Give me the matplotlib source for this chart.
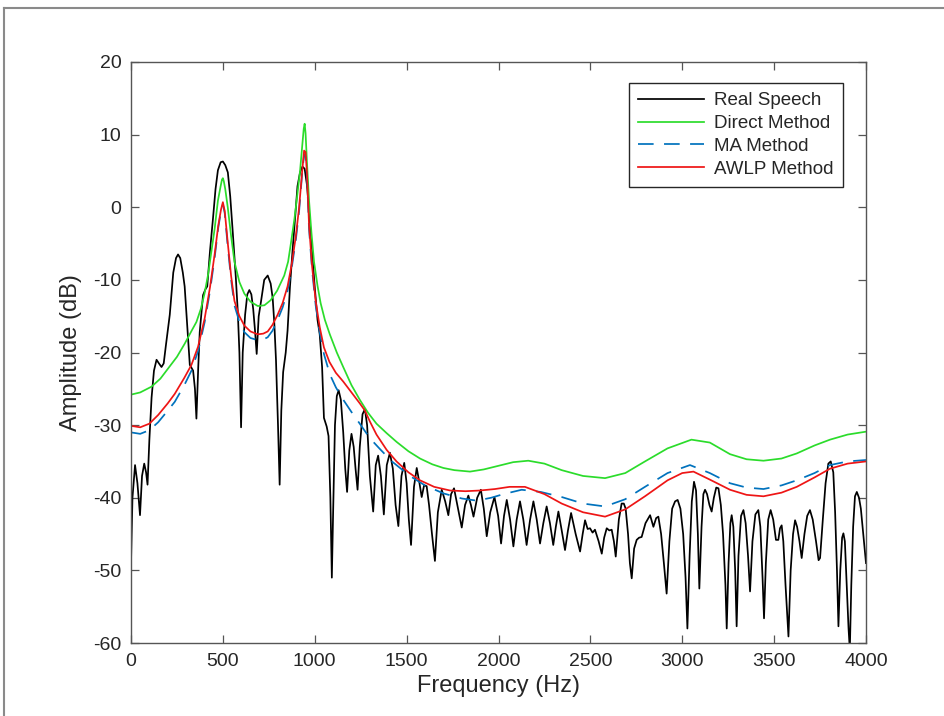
import numpy as np
import matplotlib
matplotlib.use("Agg")
import matplotlib.pyplot as plt
from matplotlib.lines import Line2D

plt.rcParams['font.family'] = ['Liberation Sans', 'DejaVu Sans']
plt.rcParams['axes.unicode_minus'] = False

# ---- data ----
real_f = [0, 8, 22, 35, 49, 60, 72, 82, 90, 100, 112, 125, 139, 152, 166, 178, 190, 211, 230, 245,
          256, 268, 282, 292, 305, 320, 338, 348, 356, 366, 374, 392, 405, 415, 430, 446, 460, 473,
          488, 500, 513, 527, 540, 554, 570, 581, 590, 599, 608, 621, 633, 644, 655, 665, 675, 684,
          695, 708, 725, 744, 760, 771, 780, 789, 800, 809, 818, 828, 842, 852, 865, 879, 893, 906,
          920, 933, 945, 958, 970, 985, 1000, 1015, 1027, 1040, 1050, 1065, 1075, 1085, 1093, 1100,
          1110, 1120, 1130, 1142, 1155, 1166, 1176, 1188, 1200, 1212, 1222, 1233, 1245, 1260, 1273,
          1285, 1300, 1318, 1332, 1345, 1360, 1376, 1392, 1409, 1425, 1440, 1455, 1472, 1487, 1500,
          1512, 1524, 1540, 1555, 1570, 1582, 1595, 1609, 1622, 1638, 1654, 1670, 1691, 1710, 1727,
          1742, 1758, 1780, 1800, 1818, 1836, 1850, 1864, 1884, 1904, 1920, 1936, 1955, 1978, 1998,
          2014, 2030, 2045, 2063, 2081, 2099, 2117, 2135, 2153, 2172, 2190, 2208, 2226, 2244, 2262,
          2280, 2298, 2312, 2326, 2344, 2362, 2378, 2395, 2420, 2444, 2458, 2471, 2485, 2498, 2512,
          2525, 2545, 2562, 2575, 2589, 2603, 2616, 2628, 2638, 2655, 2670, 2682, 2692, 2705, 2715,
          2725, 2738, 2752, 2765, 2779, 2800, 2825, 2843, 2858, 2870, 2885, 2900, 2915, 2930, 2945,
          2961, 2975, 2990, 3005, 3018, 3028, 3040, 3052, 3064, 3075, 3085, 3093, 3105, 3115, 3124,
          3135, 3148, 3160, 3172, 3185, 3197, 3210, 3222, 3235, 3242, 3252, 3262, 3269, 3278, 3288,
          3296, 3306, 3320, 3333, 3345, 3358, 3369, 3382, 3398, 3414, 3425, 3437, 3445, 3455, 3468,
          3481, 3495, 3510, 3523, 3532, 3541, 3550, 3562, 3578, 3590, 3603, 3614, 3625, 3638, 3650,
          3665, 3680, 3695, 3710, 3728, 3742, 3750, 3765, 3780, 3795, 3808, 3822, 3832, 3842, 3850,
          3860, 3870, 3877, 3885, 3895, 3905, 3912, 3920, 3930, 3940, 3950, 3962, 3972, 3985, 4000]
real_db = [-49, -40, -35.5, -38, -42.4, -37, -35.3, -36.5, -38.2, -32, -26.2, -22.5, -21, -21.5, -22,
           -21.5, -19, -14.8, -9, -7, -6.5, -7, -9, -10.9, -16, -21.7, -22.5, -25, -29.1, -22, -17.2,
           -12.1, -11.3, -10.9, -6, -1.6, 2.5, 5.1, 6.2, 6.3, 5.8, 4.8, 1.5, -3.5, -9.5, -14.3, -20,
           -30.3, -20, -14.8, -12, -11.4, -12, -14, -17, -20.2, -15, -12.9, -10, -9.4, -10.5, -12.5,
           -16, -21, -30, -38.2, -28, -22.7, -20, -17, -11, -6, -1.5, 2.9, 4.8, 5.6, 5.3, 3, -1, -6,
           -11, -15.5, -17.5, -22, -29, -30.2, -31.5, -40, -51, -42, -30, -26, -25.2, -26.5, -31, -36,
           -39.2, -33.5, -31.2, -33, -36, -38.9, -33, -28.5, -27.8, -30, -37, -41.9, -35.5, -34.2, -37,
           -42.3, -35.5, -33.8, -36, -41, -43.9, -37, -35.2, -38, -43, -46.5, -38.5, -35.9, -38, -39.9,
           -38.3, -38.4, -41, -45, -48.7, -42, -38.9, -40.5, -42.4, -39.5, -38.7, -41.5, -44.1, -41,
           -39.7, -41, -42.6, -40, -38.9, -41.5, -45.3, -42, -39.9, -42.5, -46.3, -42.5, -40.3, -43,
           -46.7, -43, -40.5, -43, -46.5, -43, -40.5, -43, -46.3, -43.5, -41.2, -43.5, -46.5, -44,
           -41.9, -44.5, -47.2, -44.5, -42.1, -45, -47.4, -45, -43.1, -44.3, -44.2, -44.8, -44.4, -46,
           -47.7, -45.5, -44.2, -44.5, -44.4, -46, -48.1, -43, -40.8, -40.8, -41.5, -45, -49, -51.1,
           -47, -45.8, -45.5, -45.4, -43.5, -42.4, -44, -42.8, -42.6, -45, -49, -53.2, -46, -41.5,
           -40.5, -40.3, -41.5, -45, -51, -58, -48, -40.5, -37.8, -39, -45, -52.5, -44, -39.5, -38.9,
           -39.5, -41, -41.9, -40, -38.6, -38.7, -41, -45, -52, -58, -49, -43.5, -42.4, -44, -50,
           -57.7, -48, -42.5, -41.7, -43.5, -48, -52.9, -46, -42.3, -41.7, -44, -51, -56.6, -49, -43,
           -41.7, -43, -45.8, -45.8, -44.2, -43.8, -46, -52, -59.1, -50, -45, -43.1, -44, -46, -48.3,
           -45, -42.5, -41.7, -43, -46, -48.6, -48.3, -43, -38, -35.3, -35, -36.5, -42, -50, -57.7,
           -50, -45.5, -44.9, -46, -52, -58, -61, -52, -44, -39.8, -39.2, -40, -41.5, -45, -49]

direct_f = [0, 50, 112, 160, 202, 250, 292, 330, 356, 380, 400, 420, 437, 455, 473, 487, 495, 500,
            505, 513, 527, 545, 563, 590, 617, 650, 690, 726, 760, 795, 834, 855, 870, 890, 906, 920,
            932, 940, 945, 950, 958, 969, 982, 996, 1015, 1032, 1055, 1082, 1120, 1155, 1200, 1245,
            1290, 1336, 1391, 1445, 1510, 1573, 1640, 1700, 1760, 1845, 1920, 2000, 2080, 2162, 2250,
            2344, 2460, 2580, 2690, 2797, 2920, 3050, 3150, 3260, 3350, 3442, 3540, 3623, 3720, 3804,
            3900, 4000]
direct_db = [-25.8, -25.5, -24.7, -23.6, -22.2, -20.6, -18.8, -17, -15.8, -14, -11.9, -9.2, -6.2, -3,
             0.9, 2.8, 3.8, 4, 3.6, 2.5, -0.1, -4, -7.5, -10.3, -11.9, -13, -13.6, -13.5, -12.8,
             -11.5, -9.4, -7.5, -5, -1.5, 1.9, 5, 8.5, 10.8, 11.5, 10.2, 6, 0.9, -3.5, -7.5, -10.8,
             -13.2, -15.5, -17.5, -20, -22, -24.5, -26.5, -28.3, -29.8, -31.1, -32.3, -33.6, -34.6,
             -35.4, -35.9, -36.2, -36.4, -36.1, -35.6, -35.1, -34.9, -35.3, -36.2, -37, -37.3, -36.6,
             -35.0, -33.2, -32.0, -32.4, -34.0, -34.7, -34.9, -34.6, -33.9, -32.8, -32.0, -31.3, -30.9]

ma_f = [0, 50, 100, 148, 200, 238, 290, 329, 365, 401, 430, 455, 475, 490, 500, 510, 527, 545, 563,
        590, 617, 650, 690, 720, 744, 770, 798, 825, 852, 875, 897, 915, 930, 942, 950, 958, 969, 985,
        1005, 1027, 1050, 1082, 1115, 1155, 1200, 1245, 1300, 1355, 1420, 1518, 1600, 1700, 1800, 1882,
        1960, 2027, 2126, 2230, 2344, 2460, 2580, 2690, 2797, 2920, 3042, 3150, 3260, 3350, 3442, 3540,
        3623, 3720, 3804, 3900, 4000]
ma_db = [-31, -31.2, -30.7, -29.6, -28, -26.8, -24.5, -22.5, -19.8, -15.8, -11.5, -7, -2.8, -0.5, 0.4,
         -0.8, -5.5, -10, -13.5, -15.8, -17.2, -18, -18.3, -18.2, -17.9, -17, -15.5, -13.8, -11.5, -8.3,
         -4.5, -0.5, 4.2, 7.3, 7.0, 4.0, -3, -8.5, -13.5, -17.2, -20.2, -23, -24.8, -26.5, -28.2, -29.8,
         -31.8, -33.3, -35, -37, -38.3, -39.4, -40.1, -40.4, -40, -39.5, -38.9, -39.2, -39.9, -40.8,
         -41.2, -40.2, -38.5, -36.6, -35.5, -36.6, -38, -38.6, -38.8, -38.3, -37.6, -36.6, -35.5, -35,
         -34.8]

awlp_f = [0, 50, 100, 148, 200, 238, 290, 329, 365, 401, 430, 455, 475, 490, 500, 510, 527, 545, 563,
          590, 617, 650, 690, 720, 744, 770, 798, 825, 852, 875, 897, 915, 930, 942, 950, 958, 969, 985,
          1005, 1027, 1050, 1080, 1115, 1155, 1200, 1245, 1273, 1300, 1336, 1391, 1445, 1510, 1573,
          1650, 1736, 1820, 1900, 1981, 2060, 2144, 2250, 2344, 2460, 2580, 2690, 2797, 2920, 3000,
          3061, 3150, 3260, 3350, 3442, 3540, 3623, 3720, 3804, 3900, 4000]
awlp_db = [-30.1, -30.3, -29.8, -28.6, -27, -25.7, -23.5, -21.7, -19.2, -15.3, -11, -6.5, -2.5, -0.3,
           0.7, -0.5, -5, -9.5, -12.9, -15, -16.3, -17.1, -17.5, -17.4, -17.1, -16.2, -14.8, -13.2,
           -10.9, -7.8, -4, 0, 4.5, 7.8, 7.6, 4.5, -2.5, -8, -12.9, -16.5, -19.3, -21.3, -22.8, -24,
           -25.5, -27, -28, -29.5, -31.3, -33.4, -35, -36.5, -37.6, -38.5, -39, -39.1, -39, -38.8,
           -38.5, -38.5, -39.5, -40.8, -42, -42.6, -41.6, -39.8, -37.6, -36.6, -36.4, -37.5, -38.9,
           -39.6, -39.8, -39.3, -38.5, -37.2, -36, -35.3, -35.0]

labels = ['Real Speech', 'Direct Method', 'MA Method', 'AWLP Method']

# ---- figure ----
fig = plt.figure(figsize=(9.44, 7.16), dpi=100)
fig.patch.set_facecolor('white')
# window frame (top and left edges)
fig.add_artist(Line2D([4 / 944, 4 / 944], [0, 1 - 8 / 716], transform=fig.transFigure,
                      color='#8a8a8a', lw=1.5))
fig.add_artist(Line2D([4 / 944, 1], [1 - 8 / 716, 1 - 8 / 716], transform=fig.transFigure,
                      color='#8a8a8a', lw=1.5))

ax = fig.add_axes([131 / 944, 73 / 716, 735 / 944, 581 / 716])
lw = 1.25
ax.plot(real_f, real_db, color='black', lw=lw, label=labels[0])
ax.plot(direct_f, direct_db, color='#2bdc2b', lw=lw, label=labels[1])
ax.plot(ma_f, ma_db, color='#0072BD', lw=lw, dashes=(9, 6), label=labels[2])
ax.plot(awlp_f, awlp_db, color='#ee1515', lw=lw, label=labels[3])

ax.set_xlim(0, 4000)
ax.set_ylim(-60, 20)
ax.set_xticks(np.arange(0, 4001, 500))
ax.set_yticks(np.arange(-60, 21, 10))

spine_col = '#555555'
for s in ax.spines.values():
    s.set_color(spine_col)
    s.set_linewidth(1.0)
ax.tick_params(direction='in', length=6, width=0.9, color=spine_col, labelsize=14,
               labelcolor='#262626', top=True, right=True, pad=7)

ax.set_xlabel('Frequency (Hz)', fontsize=17, color='#262626', labelpad=4)
ax.set_ylabel('Amplitude (dB)', fontsize=17, color='#262626', labelpad=8)

leg = ax.legend(loc='upper right', bbox_to_anchor=(0.969, 0.964), borderaxespad=0,
                fontsize=13.5, handlelength=3.5, handletextpad=0.55, labelspacing=0.3,
                fancybox=False, framealpha=1, borderpad=0.5)
leg.get_frame().set_edgecolor('#262626')
leg.get_frame().set_linewidth(1.0)
for t in leg.get_texts():
    t.set_color('#262626')

fig.savefig('out.png', dpi=100)
